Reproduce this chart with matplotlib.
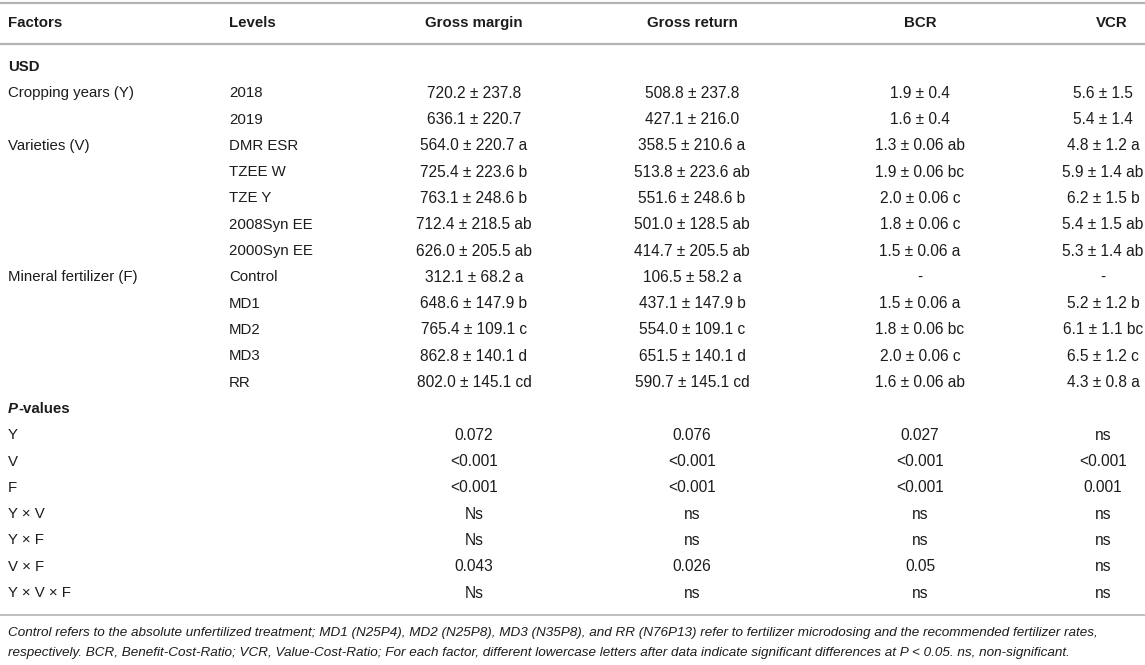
import matplotlib
matplotlib.use("Agg")
import matplotlib.pyplot as plt

plt.rcParams['font.family'] = ['Liberation Sans', 'DejaVu Sans']

# table content
columns = ["Factors", "Levels", "Gross margin", "Gross return", "BCR", "VCR"]

factors = ["Cropping years (Y)", "", "Varieties (V)", "", "", "", "",
           "Mineral fertilizer (F)", "", "", "", ""]
levels = ["2018", "2019", "DMR ESR", "TZEE W", "TZE Y", "2008Syn EE", "2000Syn EE",
          "Control", "MD1", "MD2", "MD3", "RR"]
gross_margin = ["720.2 ± 237.8", "636.1 ± 220.7", "564.0 ± 220.7 a", "725.4 ± 223.6 b",
                "763.1 ± 248.6 b", "712.4 ± 218.5 ab", "626.0 ± 205.5 ab", "312.1 ± 68.2 a",
                "648.6 ± 147.9 b", "765.4 ± 109.1 c", "862.8 ± 140.1 d", "802.0 ± 145.1 cd"]
gross_return = ["508.8 ± 237.8", "427.1 ± 216.0", "358.5 ± 210.6 a", "513.8 ± 223.6 ab",
                "551.6 ± 248.6 b", "501.0 ± 128.5 ab", "414.7 ± 205.5 ab", "106.5 ± 58.2 a",
                "437.1 ± 147.9 b", "554.0 ± 109.1 c", "651.5 ± 140.1 d", "590.7 ± 145.1 cd"]
bcr = ["1.9 ± 0.4", "1.6 ± 0.4", "1.3 ± 0.06 ab", "1.9 ± 0.06 bc", "2.0 ± 0.06 c",
       "1.8 ± 0.06 c", "1.5 ± 0.06 a", "-", "1.5 ± 0.06 a", "1.8 ± 0.06 bc",
       "2.0 ± 0.06 c", "1.6 ± 0.06 ab"]
vcr = ["5.6 ± 1.5", "5.4 ± 1.4", "4.8 ± 1.2 a", "5.9 ± 1.4 ab", "6.2 ± 1.5 b",
       "5.4 ± 1.5 ab", "5.3 ± 1.4 ab", "-", "5.2 ± 1.2 b", "6.1 ± 1.1 bc",
       "6.5 ± 1.2 c", "4.3 ± 0.8 a"]

p_terms = ["Y", "V", "F", "Y × V", "Y × F", "V × F", "Y × V × F"]
p_gm = ["0.072", "<0.001", "<0.001", "Ns", "Ns", "0.043", "Ns"]
p_gr = ["0.076", "<0.001", "<0.001", "ns", "ns", "0.026", "ns"]
p_bcr = ["0.027", "<0.001", "<0.001", "ns", "ns", "0.05", "ns"]
p_vcr = ["ns", "<0.001", "0.001", "ns", "ns", "ns", "ns"]

footnote = [
    "Control refers to the absolute unfertilized treatment; MD1 (N25P4), MD2 (N25P8), "
    "MD3 (N35P8), and RR (N76P13) refer to fertilizer microdosing and the recommended fertilizer rates,",
    "respectively. BCR, Benefit-Cost-Ratio; VCR, Value-Cost-Ratio; For each factor, different "
    "lowercase letters after data indicate significant differences at P < 0.05. ns, non-significant.",
]

W, H = 1145, 665
fig = plt.figure(figsize=(W / 100, H / 100), dpi=100)
ax = fig.add_axes([0, 0, 1, 1])
ax.set_xlim(0, W)
ax.set_ylim(H, 0)
ax.axis('off')

TXT = '#1c1c1c'
LINE = '#b4b4b4'
FS = 10.8      # labels
FS_NUM = 11.2  # numeric cells run a bit wider in the source

col_x = [(8, 'left'), (229, 'left'), (474, 'center'), (692, 'center'), (920, 'center'), (1103, 'center')]
head_x = [(8, 'left'), (229, 'left'), (474, 'center'), (692, 'center'), (920, 'center'), (1112, 'center')]
col_fs = [FS, FS, FS_NUM, FS_NUM, FS_NUM, FS_NUM]

ax.hlines([3, 44], 0, W, color=LINE, lw=1.6)
ax.hlines([615], 0, W, color=LINE, lw=1.2)

for (x, ha), name in zip(head_x, columns):
    ax.text(x, 23, name, ha=ha, va='center', fontsize=FS, fontweight='bold', color=TXT)

y0 = 67
pitch = 26.3
ax.text(8, y0, "USD", ha='left', va='center', fontsize=FS, fontweight='bold', color=TXT)

cols = [factors, levels, gross_margin, gross_return, bcr, vcr]
for i in range(len(levels)):
    y = y0 + pitch * (i + 1)
    for (x, ha), col, fs in zip(col_x, cols, col_fs):
        ax.text(x, y, col[i], ha=ha, va='center', fontsize=fs, color=TXT)

yp = y0 + pitch * (len(levels) + 1)
tp = ax.text(8, yp, "P", ha='left', va='center', fontsize=FS, fontweight='bold',
             fontstyle='italic', color=TXT)
fig.canvas.draw()
bb = tp.get_window_extent().transformed(ax.transData.inverted())
ax.text(bb.x1 + 0.5, yp, "-values", ha='left', va='center', fontsize=FS,
        fontweight='bold', color=TXT)

pcols = [p_terms, [""] * len(p_terms), p_gm, p_gr, p_bcr, p_vcr]
for i in range(len(p_terms)):
    y = yp + pitch * (i + 1)
    for (x, ha), col, fs in zip(col_x, pcols, col_fs):
        ax.text(x, y, col[i], ha=ha, va='center', fontsize=fs, color=TXT)

for k, line in enumerate(footnote):
    ax.text(8, 633 + 20 * k, line, ha='left', va='center', fontsize=9.7,
            fontstyle='italic', color=TXT)

fig.savefig("out.png", dpi=100)
